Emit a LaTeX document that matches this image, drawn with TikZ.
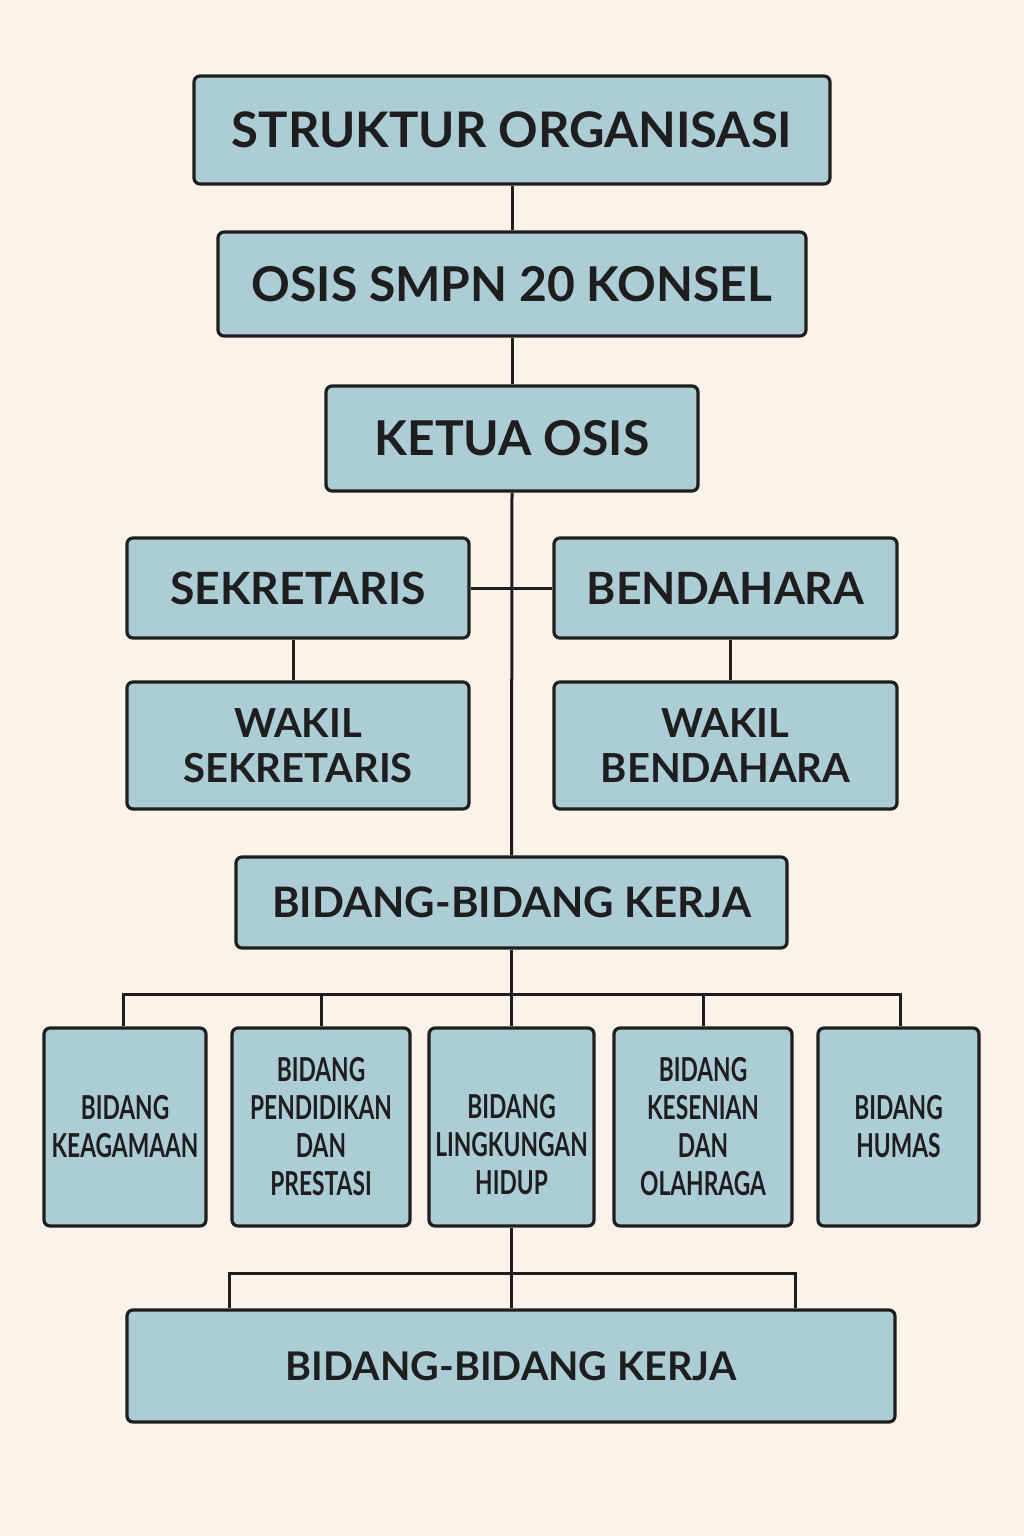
\documentclass[tikz,border=0pt]{standalone}
\usepackage{fontspec}
\setmainfont{Lato}
\newfontfamily\condfont[FakeStretch=0.69]{Lato}
\usetikzlibrary{positioning,calc}
\definecolor{bgc}{HTML}{FBF3EA}
\definecolor{boxc}{HTML}{ADCDD6}
\definecolor{inkc}{HTML}{1E1E1E}
\tikzset{
  orgbox/.style={draw=inkc, fill=boxc, line width=3.2pt, rounded corners=6pt,
    inner sep=0pt, align=center, text=inkc},
  link/.style={draw=inkc, line width=3pt},
  fsA/.style={font=\fontsize{49}{56}\selectfont\bfseries},
  fsB/.style={font=\fontsize{48}{56}\selectfont\bfseries},
  fsC/.style={font=\fontsize{44.5}{50}\selectfont\bfseries},
  fsD/.style={font=\fontsize{40}{45}\selectfont\bfseries},
  fsE/.style={font=\fontsize{42}{48}\selectfont\bfseries},
  fsF/.style={font=\fontsize{39.5}{46}\selectfont\bfseries},
  small/.style={font=\condfont\fontsize{33}{38}\selectfont\bfseries},
}
\begin{document}
\begin{tikzpicture}[x=1pt,y=-1pt]
\fill[bgc] (0,0) rectangle (1024,1536);
\useasboundingbox (0,0) rectangle (1024,1536);

\node[orgbox,fsA,minimum width=636pt,minimum height=108pt] (t) at (512,130) {STRUKTUR ORGANISASI};
\node[orgbox,fsB,minimum width=588pt,minimum height=104pt] (o) at (512,284) {OSIS SMPN 20 KONSEL};
\node[orgbox,fsB,minimum width=372pt,minimum height=105pt] (k) at (512,438.5) {KETUA OSIS};
\node[orgbox,fsC,minimum width=342pt,minimum height=100pt] (sek) at (298,588) {SEKRETARIS};
\node[orgbox,fsC,minimum width=343pt,minimum height=100pt] (ben) at (725.5,588) {BENDAHARA};
\node[orgbox,fsD,minimum width=342pt,minimum height=127pt] (ws) at (298,745.5) {WAKIL\\SEKRETARIS};
\node[orgbox,fsD,minimum width=343pt,minimum height=127pt] (wb) at (725.5,745.5) {WAKIL\\BENDAHARA};
\node[orgbox,fsE,minimum width=551pt,minimum height=91pt] (bk) at (511.5,902.5) {BIDANG-BIDANG KERJA};

\node[orgbox,small,minimum width=162pt,minimum height=198pt] (b1) at (125,1127) {BIDANG\\KEAGAMAAN};
\node[orgbox,small,minimum width=178pt,minimum height=198pt] (b2) at (321,1127) {BIDANG\\PENDIDIKAN\\DAN\\PRESTASI};
\node[orgbox,small,minimum width=165pt,minimum height=198pt,
  label={[small,text=inkc,align=center,yshift=-18pt]center:{BIDANG\\LINGKUNGAN\\HIDUP}}] (b3) at (511.5,1127) {};
\node[orgbox,small,minimum width=178pt,minimum height=198pt] (b4) at (703,1127) {BIDANG\\KESENIAN\\DAN\\OLAHRAGA};
\node[orgbox,small,minimum width=161pt,minimum height=198pt] (b5) at (898.5,1127) {BIDANG\\HUMAS};

\node[orgbox,fsF,minimum width=768pt,minimum height=112pt] (bot) at (511,1366) {BIDANG-BIDANG KERJA};

% connectors
\draw[link] (t.south) -- (o.north);
\draw[link] (o.south) -- (k.north);
\draw[link] (k.south) -- (bk.north);
\draw[link] (sek.east) -- (ben.west);
\draw[link] ([xshift=-5pt]sek.south) -- ([xshift=-5pt]ws.north);
\draw[link] ([xshift=4.5pt]ben.south) -- ([xshift=4.5pt]wb.north);

\coordinate (hub) at ($(bk.south)+(0,45)$);
\draw[link] ([xshift=-2pt]b1.north) |- (hub) -| ([xshift=1.5pt]b5.north);
\draw[link] (bk.south) -- (b3.north);
\draw[link] (b2.north) -- (b2.north |- hub);
\draw[link] (b4.north) -- (b4.north |- hub);

\coordinate (hub2) at ($(b3.south)+(0,46)$);
\draw[link] (b3.south) -- (b3.south |- bot.north);
\draw[link] ([xshift=-282pt]bot.north) |- (hub2) -| ([xshift=284pt]bot.north);
\end{tikzpicture}
\end{document}
